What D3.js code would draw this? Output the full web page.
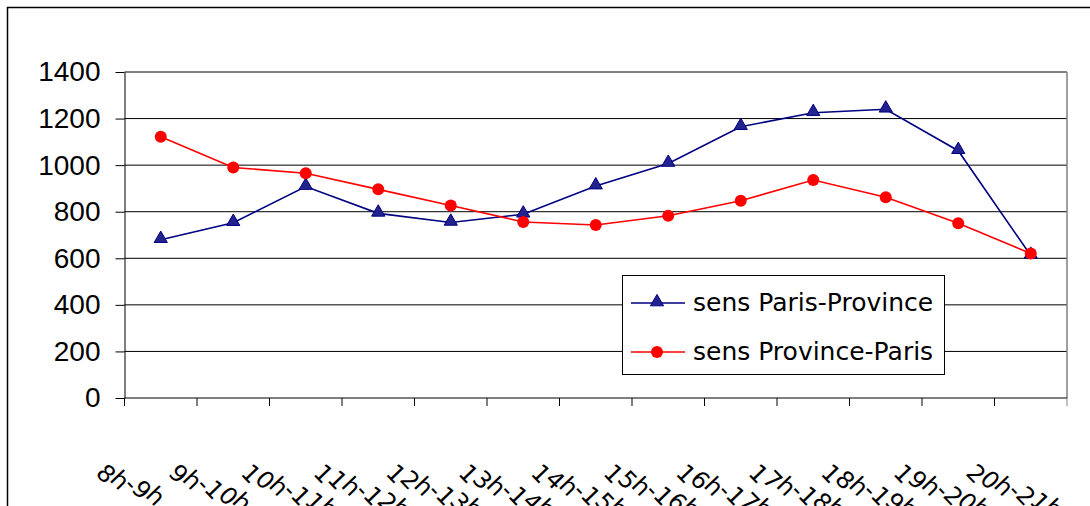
<!DOCTYPE html>
<html>
<head>
<meta charset="utf-8">
<script src="https://cdn.jsdelivr.net/npm/d3@7"></script>
<style>
  html, body { margin: 0; padding: 0; background: #fff; }
  svg { display: block; }
</style>
</head>
<body>
<svg id="chart" width="1090" height="506"></svg>
<script>
// Hourly time slots
const categories = ["8h-9h", "9h-10h", "10h-11h", "11h-12h", "12h-13h", "13h-14h", "14h-15h",
                    "15h-16h", "16h-17h", "17h-18h", "18h-19h", "19h-20h", "20h-21h"];
// Traffic per direction
const parisProvince = [680, 753, 908, 793, 754, 789, 910, 1007, 1165, 1225, 1240, 1062, 612];
const provinceParis = [1122, 990, 965, 896, 827, 756, 743, 783, 847, 936, 862, 750, 621];
const seriesNames = ["sens Paris-Province", "sens Province-Paris"];
const yTicks = [0, 200, 400, 600, 800, 1000, 1200, 1400];

const svg = d3.select("#chart");
const plot = { left: 124.5, right: 1067, top: 72, bottom: 398 };

const x = d3.scaleBand().domain(categories).range([plot.left, plot.right]).padding(0);
const y = d3.scaleLinear().domain([0, 1400]).range([plot.bottom, plot.top]);
const cx = c => x(c) + x.bandwidth() / 2;

// Outer chart frame (left and top edges)
svg.append("path")
  .attr("d", "M7.5,506 V7.5 H1090")
  .attr("fill", "none").attr("stroke", "#000").attr("stroke-width", 1.5);

// Horizontal gridlines
svg.append("g").selectAll("line")
  .data(yTicks.filter(v => v > 0))
  .join("line")
  .attr("x1", plot.left).attr("x2", plot.right)
  .attr("y1", d => y(d)).attr("y2", d => y(d))
  .attr("stroke", "#000").attr("stroke-width", 1);

// Plot area right edge
svg.append("line")
  .attr("x1", plot.right).attr("x2", plot.right)
  .attr("y1", plot.top).attr("y2", plot.bottom)
  .attr("stroke", "#808080").attr("stroke-width", 1.5);

// Y axis
const yAxis = svg.append("g")
  .attr("transform", `translate(${plot.left},0)`)
  .call(d3.axisLeft(y).tickValues(yTicks).tickFormat(d3.format("d"))
    .tickSize(9).tickPadding(15).tickSizeOuter(0));
yAxis.select(".domain").attr("stroke", "#000");
yAxis.selectAll(".tick line").attr("stroke", "#000");
yAxis.selectAll("text")
  .attr("font-family", "'Liberation Sans', Arial, sans-serif")
  .attr("font-size", 28).attr("fill", "#000");

// X axis line and boundary ticks
svg.append("line")
  .attr("x1", plot.left).attr("x2", plot.right)
  .attr("y1", plot.bottom).attr("y2", plot.bottom)
  .attr("stroke", "#000");
const bounds = categories.map(c => x(c)).concat([x.range()[1]]);
svg.append("g").selectAll("line")
  .data(bounds)
  .join("line")
  .attr("x1", d => d).attr("x2", d => d)
  .attr("y1", plot.bottom).attr("y2", plot.bottom + 8)
  .attr("stroke", (d, i) => i === bounds.length - 1 ? "#808080" : "#000");

// Category labels: glyphs turned 45° along a gently sloping baseline
svg.append("g").selectAll("text")
  .data(categories)
  .join("text")
  .attr("transform", c => `translate(${cx(c) - 66},474) rotate(24)`)
  .attr("rotate", 22)
  .attr("font-family", "'DejaVu Sans', sans-serif")
  .attr("font-size", 24)
  .attr("fill", "#000")
  .text(c => c);

// Series lines
const line = d3.line().x((d, i) => cx(categories[i])).y(d => y(d));
svg.append("path").datum(parisProvince)
  .attr("d", line).attr("fill", "none")
  .attr("stroke", "#000080").attr("stroke-width", 1.6);
svg.append("path").datum(provinceParis)
  .attr("d", line).attr("fill", "none")
  .attr("stroke", "#ff0000").attr("stroke-width", 1.6);

const tri = d3.symbol().type(d3.symbolTriangle).size(75);

// Triangle markers
svg.append("g").selectAll("path")
  .data(parisProvince)
  .join("path")
  .attr("d", tri)
  .attr("transform", (d, i) => `translate(${cx(categories[i])},${y(d) - 1})`)
  .attr("fill", "#23238e").attr("stroke", "#000080").attr("stroke-width", 1);

// Circle markers
svg.append("g").selectAll("circle")
  .data(provinceParis)
  .join("circle")
  .attr("cx", (d, i) => cx(categories[i]))
  .attr("cy", d => y(d))
  .attr("r", 6)
  .attr("fill", "#ff0000");

// Legend
const legend = svg.append("g");
legend.append("rect")
  .attr("x", 622.5).attr("y", 275.5).attr("width", 322).attr("height", 99)
  .attr("fill", "#fff").attr("stroke", "#000").attr("stroke-width", 1);
const legendRows = [
  { name: seriesNames[0], color: "#000080", y: 303, marker: "tri" },
  { name: seriesNames[1], color: "#ff0000", y: 352, marker: "circle" }
];
legendRows.forEach(r => {
  legend.append("line")
    .attr("x1", 631).attr("x2", 685).attr("y1", r.y).attr("y2", r.y)
    .attr("stroke", r.color).attr("stroke-width", 1.6);
  if (r.marker === "tri") {
    legend.append("path").attr("d", tri)
      .attr("transform", `translate(657,${r.y - 1})`)
      .attr("fill", "#23238e").attr("stroke", "#000080");
  } else {
    legend.append("circle").attr("cx", 657).attr("cy", r.y).attr("r", 6).attr("fill", r.color);
  }
  legend.append("text")
    .attr("x", 693).attr("y", r.y + 8)
    .attr("font-family", "'DejaVu Sans', sans-serif")
    .attr("font-size", 25)
    .attr("fill", "#000")
    .text(r.name);
});
</script>
</body>
</html>
